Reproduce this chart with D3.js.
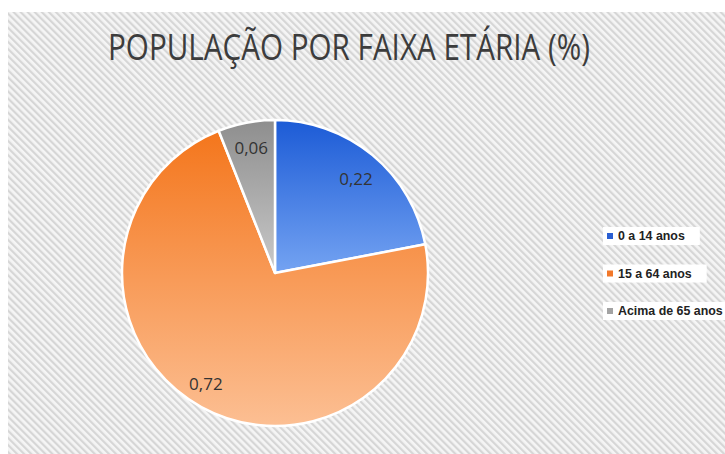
<!DOCTYPE html>
<html>
<head>
<meta charset="utf-8">
<script src="https://cdn.jsdelivr.net/npm/d3@7"></script>
<style>
  body { margin: 0; background: #fff; }
  svg { display: block; }
</style>
</head>
<body>
<div id="chart"></div>
<script>
// Data
var categories = ["0 a 14 anos", "15 a 64 anos", "Acima de 65 anos"];
var values = [0.22, 0.72, 0.06];
var valueLabels = ["0,22", "0,72", "0,06"];
var title = "POPULAÇÃO POR FAIXA ETÁRIA (%)";

// colours: [top, bottom] of each slice gradient
var gradTop = ["#1c5bd6", "#f4761c", "#8e8e8e"];
var gradBottom = ["#74a3f2", "#fcbf93", "#c9c9c9"];
var legendColor = ["#2a5fd2", "#f2782a", "#a3a3a3"];

var width = 725, height = 454;

var svg = d3.select("#chart").append("svg")
    .attr("width", width)
    .attr("height", height);

var defs = svg.append("defs");

// diagonal stripe background
var pat = defs.append("pattern")
    .attr("id", "stripes")
    .attr("patternUnits", "userSpaceOnUse")
    .attr("width", 5)
    .attr("height", 5)
    .attr("patternTransform", "rotate(-45)");
pat.append("rect").attr("width", 5).attr("height", 5).attr("fill", "#f5f5f5");
pat.append("rect").attr("width", 2.2).attr("height", 5).attr("fill", "#d6d6d6");

svg.append("rect")
    .attr("x", 8).attr("y", 12)
    .attr("width", width - 8).attr("height", height - 12)
    .attr("fill", "url(#stripes)");

// gradients, one per slice
categories.forEach(function(c, i) {
    var g = defs.append("linearGradient")
        .attr("id", "grad" + i)
        .attr("x1", 0).attr("y1", 0).attr("x2", 0).attr("y2", 1);
    g.append("stop").attr("offset", "0%").attr("stop-color", gradTop[i]);
    g.append("stop").attr("offset", "100%").attr("stop-color", gradBottom[i]);
});

// Title
svg.append("text")
    .attr("x", 108)
    .attr("y", 60)
    .attr("textLength", 482)
    .attr("lengthAdjust", "spacingAndGlyphs")
    .style("font-family", "'Open Sans', sans-serif")
    .style("font-weight", 400)
    .style("font-size", "36px")
    .style("fill", "#3c3c3c")
    .text(title);

// Pie
var cx = 275, cy = 273, radius = 153;

var pie = d3.pie().sort(null).value(function(d) { return d; });
var arcs = pie(values);

var arc = d3.arc().innerRadius(0).outerRadius(radius);
var labelArc = d3.arc().innerRadius(127).outerRadius(127);

var g = svg.append("g").attr("transform", "translate(" + cx + "," + cy + ")");

g.selectAll("path.slice")
    .data(arcs)
    .enter().append("path")
    .attr("class", "slice")
    .attr("d", arc)
    .attr("fill", function(d, i) { return "url(#grad" + i + ")"; })
    .attr("stroke", "#fff")
    .attr("stroke-width", 2.5)
    .attr("stroke-linejoin", "round");

g.selectAll("text.lbl")
    .data(arcs)
    .enter().append("text")
    .attr("class", "lbl")
    .attr("transform", function(d, i) {
        var c = labelArc.centroid(d);
        if (i === 1) c[0] -= 8;   // 0,72 sits a bit further left
        if (i === 0) c[1] += 4;
        return "translate(" + c + ")";
    })
    .attr("text-anchor", "middle")
    .attr("dy", "0.35em")
    .style("font-family", "'Open Sans', sans-serif")
    .style("font-size", "17px")
    .style("fill", "#333")
    .text(function(d, i) { return valueLabels[i]; });

// Legend
var legendY = d3.scalePoint().domain(categories).range([236, 311]);

var leg = svg.selectAll("g.legend")
    .data(categories)
    .enter().append("g")
    .attr("class", "legend")
    .attr("transform", function(d) { return "translate(603," + legendY(d) + ")"; });

var bg = leg.append("rect")
    .attr("x", 0).attr("y", -9)
    .attr("height", 18)
    .attr("fill", "#ffffff");

leg.append("rect")
    .attr("x", 4).attr("y", -3)
    .attr("width", 6).attr("height", 6)
    .attr("fill", function(d, i) { return legendColor[i]; });

leg.append("text")
    .attr("x", 15)
    .attr("y", 0)
    .attr("dy", "0.35em")
    .style("font-family", "'Liberation Sans', Arial, sans-serif")
    .style("font-weight", "bold")
    .style("font-size", "12.4px")
    .style("fill", "#222")
    .text(function(d) { return d; });

bg.attr("width", function() {
    var t = d3.select(this.parentNode).select("text").node();
    return Math.min(t.getComputedTextLength() + 30, width - 603);
});
</script>
</body>
</html>
